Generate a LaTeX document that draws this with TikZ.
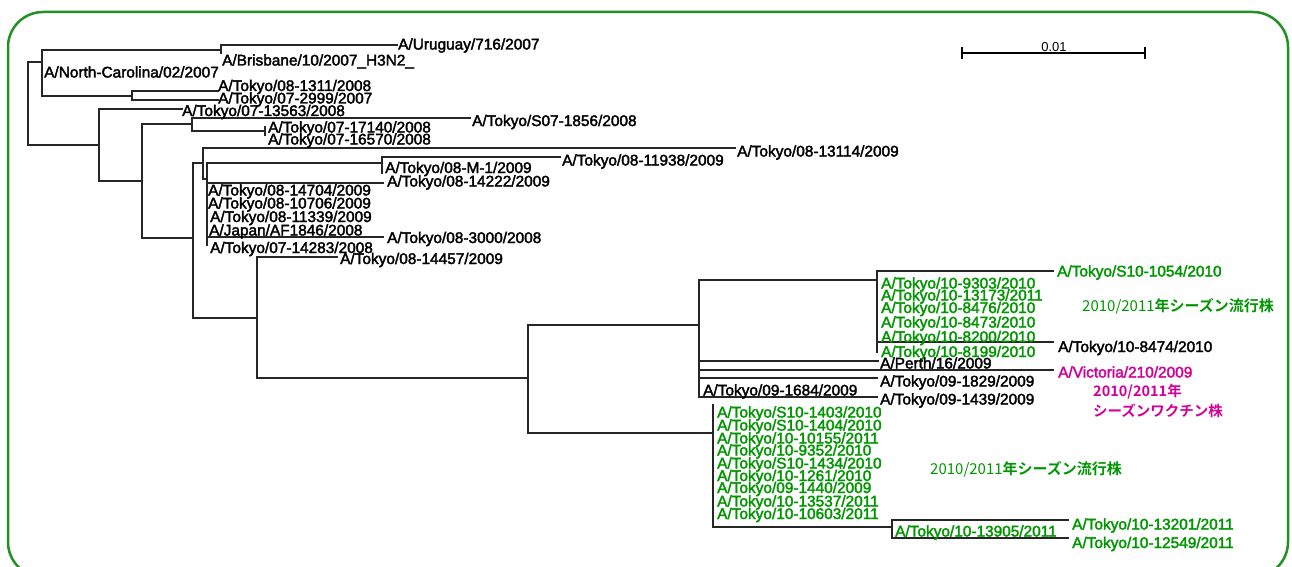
\documentclass[tikz,border=0pt]{standalone}
\usepackage{fontspec}
\newfontfamily\labfam{Liberation Sans}
\newfontfamily\jp{Noto Sans CJK JP}
\newfontfamily\jpb{Noto Sans CJK JP Bold}
\definecolor{tgreen}{RGB}{0,150,0}
\definecolor{fgreen}{RGB}{34,145,34}
\definecolor{tmag}{RGB}{210,0,150}
\newcommand{\heavyon}{\special{pdf:code 2 Tr 0.35 w}}
\newcommand{\heavyoff}{\special{pdf:code 0 Tr}}
\begin{document}
\begin{tikzpicture}[x=1pt,y=-1pt,
  br/.style={line width=1.4pt, draw=black!85, line cap=rect},
  leaf/.style={anchor=west, inner sep=0pt, text height=11pt, text depth=0pt,
    font=\labfam\fontsize{15.4}{18}\selectfont,
    execute at begin node=\heavyon, execute at end node=\heavyoff},
  gleaf/.style={leaf, text=tgreen},
  anno/.style={anchor=west, inner sep=0pt, text height=13pt, text depth=2pt,
    font=\jp\fontsize{15}{18}\selectfont},
  frame/.style={draw=fgreen, line width=2.5pt, rounded corners=35pt}]
\useasboundingbox (0,0) rectangle (1292,567);
\draw[frame] (8,12) rectangle (1288,577);

% internal nodes and tips
\coordinate (r) at (28,103);
\coordinate (n1) at (42,62);
\coordinate (n1a) at (221,50);
\coordinate (tUru) at (397,45);
\coordinate (tBri) at (221,53);
\coordinate (n1b) at (132,96);
\coordinate (t1311) at (218,91);
\coordinate (t2999) at (218,100);
\coordinate (n2) at (99,145);
\coordinate (t13563) at (182,109);
\coordinate (n3) at (142,181);
\coordinate (n4) at (192,124);
\coordinate (t1856) at (470,118);
\coordinate (n5) at (265,131);
\coordinate (t17140) at (265,127);
\coordinate (t16570) at (265,135);
\coordinate (n6) at (193,238);
\coordinate (n7) at (203,163);
\coordinate (t13114) at (735,148);
\coordinate (n8) at (207,179);
\coordinate (n9) at (382,163);
\coordinate (t11938) at (560,157);
\coordinate (tM1) at (382,173);
\coordinate (t14222) at (383,183);
\coordinate (t3000) at (383,237);
\coordinate (t14283) at (207,245);
\coordinate (n10) at (257,318);
\coordinate (t14457) at (337,257);
\coordinate (n11) at (528,378);
\coordinate (n12) at (699,325);
\coordinate (n13) at (877,280);
\coordinate (t1054) at (1053,271);
\coordinate (t8474) at (1053,342);
\coordinate (t8199) at (877,352);
\coordinate (tPerth) at (878,361);
\coordinate (tVic) at (1053,370);
\coordinate (n14) at (699,388);
\coordinate (t1829) at (877,378);
\coordinate (t1439) at (877,397);
\coordinate (n15) at (713,433);
\coordinate (t1403) at (713,405);
\coordinate (n16) at (892,527);
\coordinate (t13201) at (1068,520);
\coordinate (t12549) at (1068,538);

% branches
\draw[br] (r) |- (n1);  \draw[br] (r) |- (n2);
\draw[br] (n1) |- (n1a); \draw[br] (n1) |- (n1b);
\draw[br] (n1a) |- (tUru); \draw[br] (n1a) |- (tBri);
\draw[br] (n1b) |- (t1311); \draw[br] (n1b) |- (t2999);
\draw[br] (n2) |- (t13563); \draw[br] (n2) |- (n3);
\draw[br] (n3) |- (n4); \draw[br] (n3) |- (n6);
\draw[br] (n4) |- (t1856); \draw[br] (n4) |- (n5);
\draw[br] (n5) |- (t17140); \draw[br] (n5) |- (t16570);
\draw[br] (n6) |- (n7); \draw[br] (n6) |- (n10);
\draw[br] (n7) |- (t13114); \draw[br] (n7) |- (n8);
\draw[br] (n8) |- (n9); \draw[br] (n8) |- (t14222);
\draw[br] (n8) |- (t3000); \draw[br] (n8) |- (t14283);
\draw[br] (n9) |- (t11938); \draw[br] (n9) |- (tM1);
\draw[br] (n10) |- (t14457); \draw[br] (n10) |- (n11);
\draw[br] (n11) |- (n12); \draw[br] (n11) |- (n15);
\draw[br] (n12) |- (n13); \draw[br] (n12) |- (tPerth);
\draw[br] (n12) |- (tVic); \draw[br] (n12) |- (n14);
\draw[br] (n13) |- (t1054); \draw[br] (n13) |- (t8474); \draw[br] (n13) |- (t8199);
\draw[br] (n14) |- (t1829); \draw[br] (n14) |- (t1439);
\draw[br] (n15) |- (t1403); \draw[br] (n15) |- (n16);
\draw[br] (n16) |- (t13201); \draw[br] (n16) |- (t12549);

% labels (black)
\node[leaf] (lUru) at (398,44) {A/Uruguay/716/2007};
\node[leaf] (lBri) at (222,60) {A/Brisbane/10/2007\_H3N2\_};
\node[leaf] (lNC) at (44,72) {A/North-Carolina/02/2007};
\node[leaf] (l1311) at (218,85.5) {A/Tokyo/08-1311/2008};
\node[leaf] (l2999) at (218,98) {A/Tokyo/07-2999/2007};
\node[leaf] (l13563) at (182,110.5) {A/Tokyo/07-13563/2008};
\node[leaf] (l1856) at (472,120.5) {A/Tokyo/S07-1856/2008};
\node[leaf] (l17140) at (268,127) {A/Tokyo/07-17140/2008};
\node[leaf] (l16570) at (268,139) {A/Tokyo/07-16570/2008};
\node[leaf] (l13114) at (737,151) {A/Tokyo/08-13114/2009};
\node[leaf] (l11938) at (562,160) {A/Tokyo/08-11938/2009};
\node[leaf] (lM1) at (385,167.5) {A/Tokyo/08-M-1/2009};
\node[leaf] (l14222) at (387,181) {A/Tokyo/08-14222/2009};
\node[leaf] (l14704) at (208,190) {A/Tokyo/08-14704/2009};
\node[leaf] (l10706) at (208,203) {A/Tokyo/08-10706/2009};
\node[leaf] (l11339) at (210,216.5) {A/Tokyo/08-11339/2009};
\node[leaf] (lAF) at (209,230) {A/Japan/AF1846/2008};
\node[leaf] (l3000) at (387,237.5) {A/Tokyo/08-3000/2008};
\node[leaf] (l14283) at (210,247.5) {A/Tokyo/07-14283/2008};
\node[leaf] (l14457) at (340,258.5) {A/Tokyo/08-14457/2009};

% upper 2010/2011 cluster
\node[gleaf] (l1054) at (1057,271) {A/Tokyo/S10-1054/2010};
\node[gleaf] (l9303) at (881,283) {A/Tokyo/10-9303/2010};
\node[gleaf] (l13173) at (881,295) {A/Tokyo/10-13173/2011};
\node[gleaf] (l8476) at (881,307.5) {A/Tokyo/10-8476/2010};
\node[gleaf] (l8473) at (881,322) {A/Tokyo/10-8473/2010};
\node[gleaf] (l8200) at (881,336.5) {A/Tokyo/10-8200/2010};
\node[gleaf] (l8199) at (881,351.5) {A/Tokyo/10-8199/2010};
\node[leaf] (l8474) at (1058,346.5) {A/Tokyo/10-8474/2010};
\node[leaf] (lPerth) at (880,363) {A/Perth/16/2009};
\node[leaf, text=tmag] (lVic) at (1058,372) {A/Victoria/210/2009};
\node[leaf] (l1829) at (880,381) {A/Tokyo/09-1829/2009};
\node[leaf] (l1439) at (880,399) {A/Tokyo/09-1439/2009};
\node[leaf] (l1684) at (703,390) {A/Tokyo/09-1684/2009};

% lower cluster
\node[gleaf] (l1403) at (717,412) {A/Tokyo/S10-1403/2010};
\node[gleaf] (l1404) at (717,425) {A/Tokyo/S10-1404/2010};
\node[gleaf] (l10155) at (717,438) {A/Tokyo/10-10155/2011};
\node[gleaf] (l9352) at (717,450) {A/Tokyo/10-9352/2010};
\node[gleaf] (l1434) at (717,463) {A/Tokyo/S10-1434/2010};
\node[gleaf] (l1261) at (717,475.5) {A/Tokyo/10-1261/2010};
\node[gleaf] (l1440) at (717,487.5) {A/Tokyo/09-1440/2009};
\node[gleaf] (l13537) at (717,501) {A/Tokyo/10-13537/2011};
\node[gleaf] (l10603) at (717,513.5) {A/Tokyo/10-10603/2011};
\node[gleaf] (l13905) at (895,531) {A/Tokyo/10-13905/2011};
\node[gleaf] (l13201) at (1072,524) {A/Tokyo/10-13201/2011};
\node[gleaf] (l12549) at (1072,542.5) {A/Tokyo/10-12549/2011};

% annotations
\node[anno, text=tgreen] (ann1) at (1082,306) {2010/2011{\jpb 年シーズン流行株}};
\node[anno, text=tgreen] (ann2) at (930,468.5) {2010/2011{\jpb 年シーズン流行株}};
\node[anno, text=tmag, font=\jpb\fontsize{14.5}{18}\selectfont] (ann3) at (1093,391) {2010/2011年};
\node[anno, text=tmag, font=\jpb\fontsize{14.5}{18}\selectfont] (ann4) at (1093,410.5) {シーズンワクチン株};

% scale bar
\coordinate (sbL) at (962,53);
\coordinate (sbR) at (1145,53);
\draw[line width=1.2pt] (sbL) -- (sbR);
\draw[line width=1.2pt] (sbL) ++(0,-6) -- ++(0,12);
\draw[line width=1.2pt] (sbR) ++(0,-6) -- ++(0,12);
\node[anchor=base, inner sep=0pt, font=\labfam\fontsize{13}{15}\selectfont] (sbl) at (1054,52) {0.01};
\end{tikzpicture}
\end{document}
